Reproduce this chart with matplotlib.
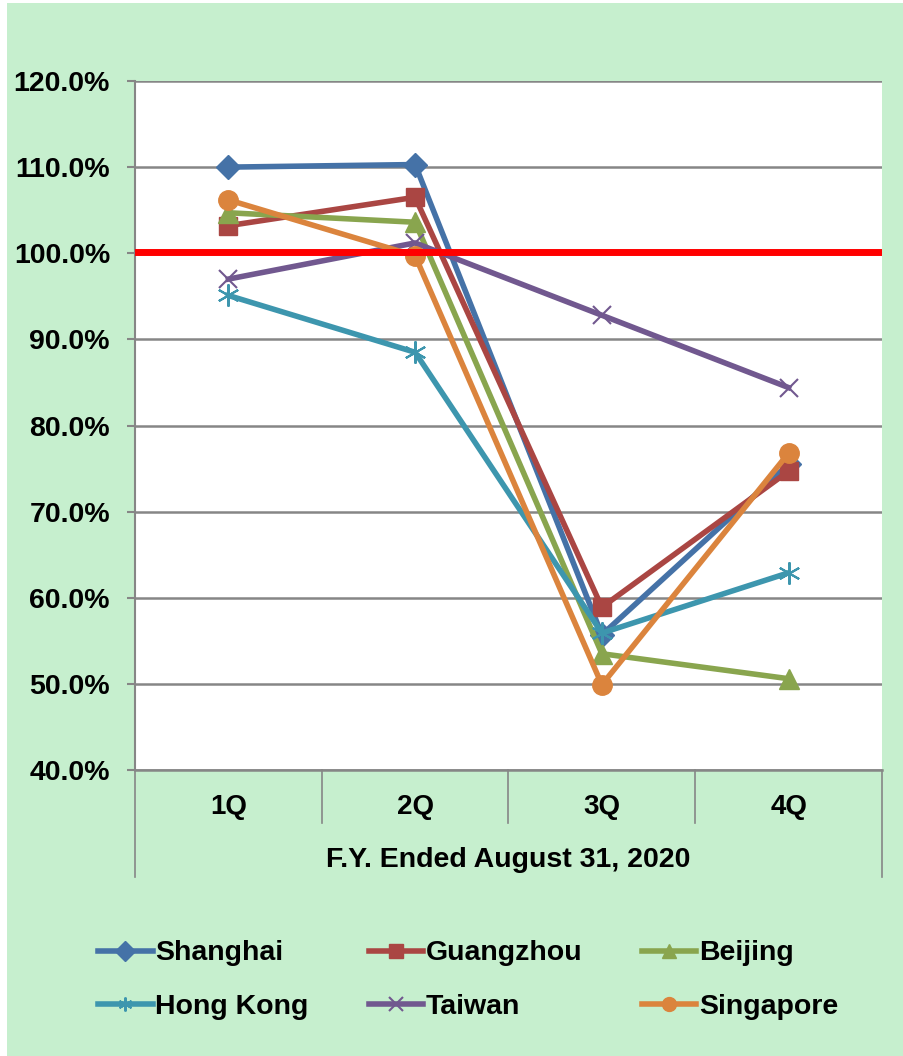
import matplotlib
matplotlib.use('Agg')
from matplotlib import pyplot as plt
from matplotlib.patches import Rectangle
from matplotlib.lines import Line2D

quarters = ['1Q', '2Q', '3Q', '4Q']
shanghai = [110.0, 110.3, 55.7, 75.5]
guangzhou = [103.2, 106.5, 58.9, 74.7]
beijing = [104.7, 103.6, 53.5, 50.6]
hong_kong = [95.1, 88.5, 55.9, 62.9]
taiwan = [97.0, 101.2, 92.8, 84.4]
singapore = [106.2, 99.7, 49.9, 76.8]
target = 100.2
yticks = [40, 50, 60, 70, 80, 90, 100, 110, 120]
group_label = 'F.Y. Ended August 31, 2020'

series = [
    ('Shanghai', shanghai, '#4572A7', 'D', 12),
    ('Guangzhou', guangzhou, '#AA4643', 's', 13),
    ('Beijing', beijing, '#89A54E', '^', 14),
    ('Hong Kong', hong_kong, '#3D96AE', (6, 2, 0), 16),
    ('Taiwan', taiwan, '#71588F', 'x', 13),
    ('Singapore', singapore, '#DB843D', 'o', 14),
]

bg = '#C6EFCE'
fam = ['Liberation Sans', 'DejaVu Sans']

W, H = 904, 1056
fig = plt.figure(figsize=(W / 100, H / 100), dpi=100)
fig.patch.set_facecolor('white')
fig.add_artist(Rectangle((7 / W, 0), 1 - 7 / W, 1 - 3 / H, transform=fig.transFigure,
                         facecolor=bg, edgecolor='none', zorder=-10))

left, right, top, bottom = 135, 882, 81, 770
ax = fig.add_axes([left / W, 1 - bottom / H, (right - left) / W, (bottom - top) / H])
ax.set_facecolor('white')
ax.set_xlim(0.5, 4.5)
ax.set_ylim(40, 120)
ax.set_yticks(yticks)
ax.set_yticklabels(['%.1f%%' % v for v in yticks], fontfamily=fam,
                   fontweight='bold', fontsize=20.5)
ax.tick_params(axis='y', length=6, width=1.5, color='#868686', pad=12)
ax.set_xticks([])
ax.grid(axis='y', color='#868686', linewidth=1.8, zorder=0)
for side in ['top', 'right']:
    ax.spines[side].set_visible(False)
ax.spines['left'].set_color('#868686')
ax.spines['left'].set_linewidth(1.5)
ax.spines['bottom'].set_color('#868686')
ax.spines['bottom'].set_linewidth(1.8)

xs = range(1, len(quarters) + 1)
handles = []
for name, vals, color, marker, ms in series:
    mew = 1.5 if marker in ('x', (6, 2, 0)) else 1
    ln, = ax.plot(xs, vals, color=color, linewidth=4, marker=marker, markersize=ms,
                  markeredgewidth=mew, markeredgecolor=color, markerfacecolor=color,
                  label=name, zorder=3, clip_on=False)
    handles.append(ln)

ax.axhline(target, color='#FF0000', linewidth=5, zorder=4)

# category labels and separators below the axis
trans = ax.get_xaxis_transform()
span = bottom - top
for i, q in enumerate(quarters):
    ax.text(i + 1, -(807 - bottom) / span, q, transform=trans, ha='center',
            va='center', fontfamily=fam, fontweight='bold', fontsize=20)
for xb in [1.5, 2.5, 3.5]:
    ax.add_line(Line2D([xb, xb], [0, -(823 - bottom) / span], transform=trans,
                       color='#868686', linewidth=1.2, clip_on=False))
for xb in [0.5, 4.5]:
    ax.add_line(Line2D([xb, xb], [0, -(877 - bottom) / span], transform=trans,
                       color='#868686', linewidth=1.2, clip_on=False))
ax.text(2.5, -(860 - bottom) / span, group_label, transform=trans, ha='center',
        va='center', fontfamily=fam, fontweight='bold', fontsize=20.5)

# legend filled row by row: three per row
order = [0, 3, 1, 4, 2, 5]
leg = fig.legend(handles=[handles[i] for i in order], loc='center',
                 bbox_to_anchor=(0.518, 1 - 980 / H),
                 ncol=3, frameon=False, handlelength=1.9, handletextpad=0.1,
                 columnspacing=2.1, labelspacing=0.95,
                 prop={'family': fam, 'weight': 'bold', 'size': 20.5})
for h in leg.legend_handles:
    h.set_markersize(10)

fig.savefig('out.png', dpi=100, facecolor=fig.get_facecolor())
